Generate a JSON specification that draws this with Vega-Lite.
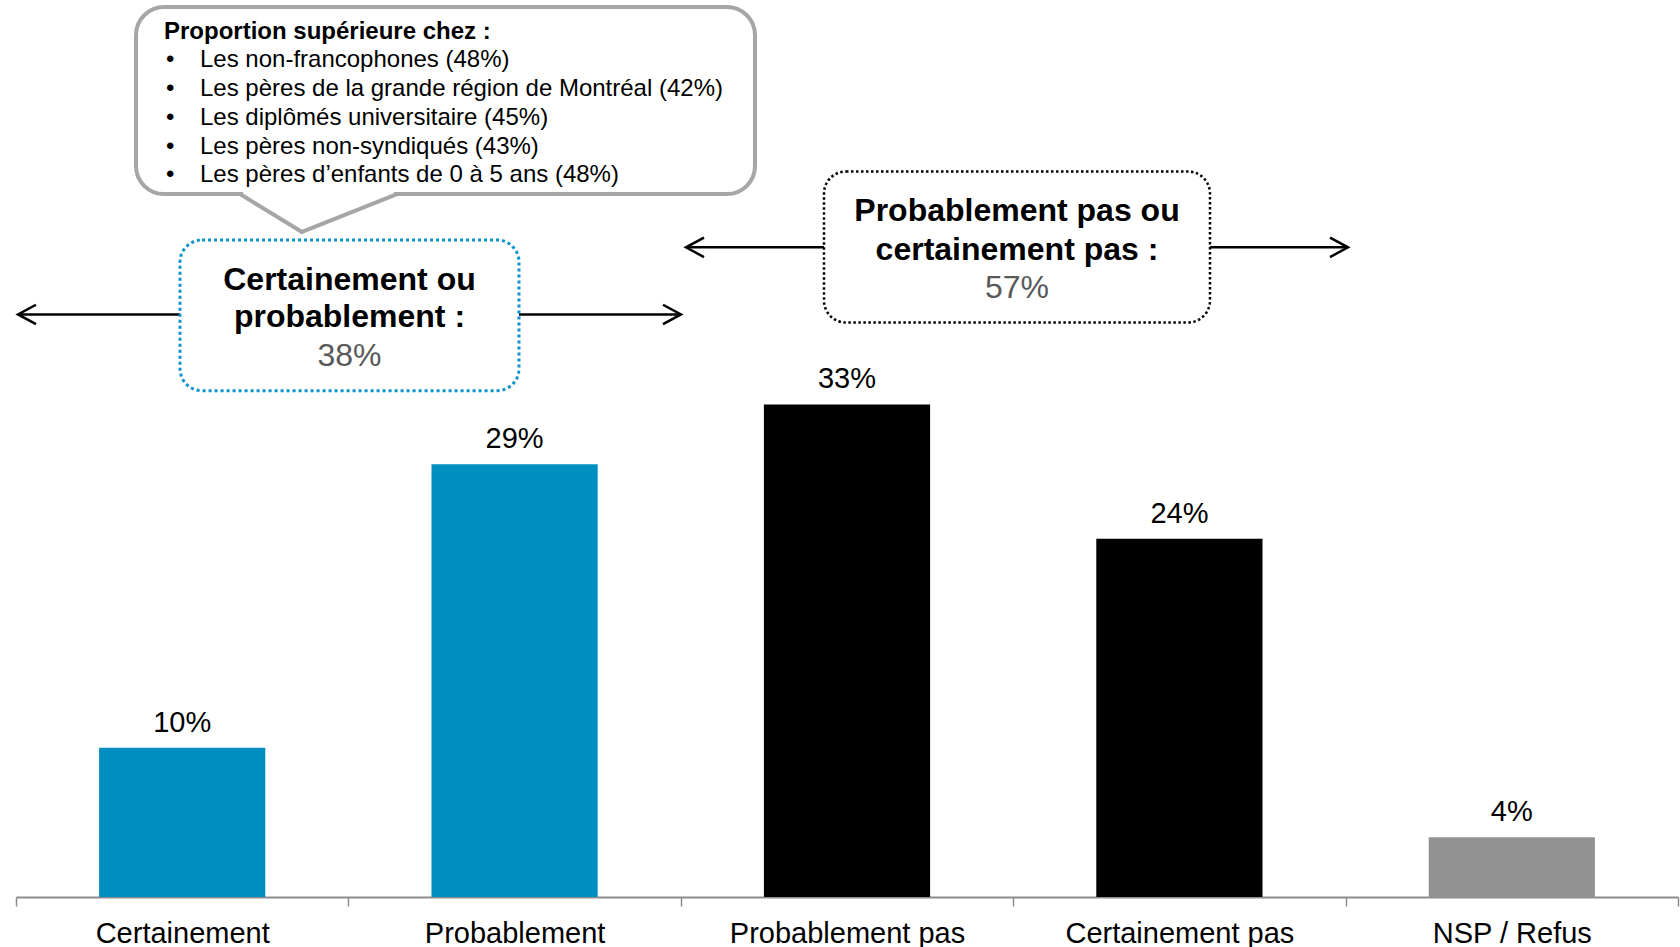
{
  "$schema": "https://vega.github.io/schema/vega-lite/v6.json",
  "width": 1662,
  "height": 897,
  "autosize": {"type": "none"},
  "padding": {"left": 16, "top": 0, "right": 2, "bottom": 50},
  "background": "white",
  "config": {"font": "Liberation Sans", "view": {"stroke": null}},
  "resolve": {"scale": {"x": "independent"}},
  "layer": [
    {
      "data": {"values": [
        {"categorie": "Certainement", "pct": 0.10, "groupe": "oui"},
        {"categorie": "Probablement", "pct": 0.29, "groupe": "oui"},
        {"categorie": "Probablement pas", "pct": 0.33, "groupe": "non"},
        {"categorie": "Certainement pas", "pct": 0.24, "groupe": "non"},
        {"categorie": "NSP / Refus", "pct": 0.04, "groupe": "nsp"}
      ]},
      "encoding": {
        "x": {"field": "categorie", "type": "nominal", "sort": null,
              "scale": {"paddingInner": 0, "paddingOuter": 0},
              "axis": {"title": null, "labelAngle": 0, "labelFontSize": 29, "labelColor": "#000000",
                       "domainColor": "#8C8C8C", "domainWidth": 2, "tickColor": "#8C8C8C", "tickWidth": 1.5,
                       "tickSize": 9, "tickBand": "extent", "labelPadding": 36, "labelBaseline": "alphabetic",
                       "grid": false, "labelLimit": 0, "labelOverlap": false, "labelFont": "Liberation Sans"}},
        "y": {"field": "pct", "type": "quantitative", "scale": {"domain": [0, 0.601], "nice": false}, "axis": null}
      },
      "layer": [
        {"mark": {"type": "bar", "width": {"band": 0.5}},
         "encoding": {"color": {"field": "groupe", "type": "nominal",
                                "scale": {"domain": ["oui", "non", "nsp"], "range": ["#008FC0", "#000000", "#929292"]},
                                "legend": null}}},
        {"mark": {"type": "text", "dy": -16, "baseline": "alphabetic", "fontSize": 29, "color": "#000000"},
         "encoding": {"text": {"field": "pct", "type": "quantitative", "format": ".0%"}}}
      ]
    },
    {
      "data": {"values": [{}]},
      "layer": [
        {"mark": {"type": "rule", "color": "#000000", "strokeWidth": 2.5},
         "encoding": {
           "x": {"datum": 0.006, "type": "quantitative", "scale": {"domain": [0, 5], "nice": false, "zero": false}, "axis": null},
           "x2": {"datum": 2.0006},
           "y": {"datum": 0.3903, "type": "quantitative", "scale": {"domain": [0, 0.601], "nice": false}, "axis": null}}},
        {"mark": {"type": "rule", "color": "#000000", "strokeWidth": 2.5},
         "encoding": {
           "x": {"datum": 2.0156, "type": "quantitative", "scale": {"domain": [0, 5], "nice": false, "zero": false}, "axis": null},
           "x2": {"datum": 4.0072},
           "y": {"datum": 0.4353, "type": "quantitative", "scale": {"domain": [0, 0.601], "nice": false}, "axis": null}}},
        {"mark": {"type": "point", "shape": "M1,-0.54L0,0L1,0.54", "size": 1296, "filled": false, "stroke": "#000000", "strokeWidth": 2.5, "opacity": 1},
         "encoding": {
           "x": {"datum": 0.006, "type": "quantitative", "scale": {"domain": [0, 5], "nice": false, "zero": false}, "axis": null},
           "y": {"datum": 0.3903, "type": "quantitative", "scale": {"domain": [0, 0.601], "nice": false}, "axis": null}}},
        {"mark": {"type": "point", "shape": "M-1,-0.54L0,0L-1,0.54", "size": 1296, "filled": false, "stroke": "#000000", "strokeWidth": 2.5, "opacity": 1},
         "encoding": {
           "x": {"datum": 2.0006, "type": "quantitative", "scale": {"domain": [0, 5], "nice": false, "zero": false}, "axis": null},
           "y": {"datum": 0.3903, "type": "quantitative", "scale": {"domain": [0, 0.601], "nice": false}, "axis": null}}},
        {"mark": {"type": "point", "shape": "M1,-0.54L0,0L1,0.54", "size": 1296, "filled": false, "stroke": "#000000", "strokeWidth": 2.5, "opacity": 1},
         "encoding": {
           "x": {"datum": 2.0156, "type": "quantitative", "scale": {"domain": [0, 5], "nice": false, "zero": false}, "axis": null},
           "y": {"datum": 0.4353, "type": "quantitative", "scale": {"domain": [0, 0.601], "nice": false}, "axis": null}}},
        {"mark": {"type": "point", "shape": "M-1,-0.54L0,0L-1,0.54", "size": 1296, "filled": false, "stroke": "#000000", "strokeWidth": 2.5, "opacity": 1},
         "encoding": {
           "x": {"datum": 4.0072, "type": "quantitative", "scale": {"domain": [0, 5], "nice": false, "zero": false}, "axis": null},
           "y": {"datum": 0.4353, "type": "quantitative", "scale": {"domain": [0, 0.601], "nice": false}, "axis": null}}},
        {"mark": {"type": "rect", "fill": "#FFFFFF", "stroke": "#0E93CB", "strokeWidth": 3, "strokeDash": [3, 3], "cornerRadius": 22},
         "encoding": {
           "x": {"datum": 0.4934, "type": "quantitative", "scale": {"domain": [0, 5], "nice": false, "zero": false}, "axis": null},
           "x2": {"datum": 1.5132},
           "y": {"datum": 0.4402, "type": "quantitative", "scale": {"domain": [0, 0.601], "nice": false}, "axis": null},
           "y2": {"datum": 0.3392}}},
        {"mark": {"type": "rect", "fill": "#FFFFFF", "stroke": "#000000", "strokeWidth": 2.5, "strokeDash": [2.5, 2.5], "cornerRadius": 22},
         "encoding": {
           "x": {"datum": 2.4308, "type": "quantitative", "scale": {"domain": [0, 5], "nice": false, "zero": false}, "axis": null},
           "x2": {"datum": 3.592},
           "y": {"datum": 0.4861, "type": "quantitative", "scale": {"domain": [0, 0.601], "nice": false}, "axis": null},
           "y2": {"datum": 0.3849}}},
        {"mark": {"type": "text", "text": ["Certainement ou", "probablement :"], "fontSize": 32, "fontWeight": "bold", "lineHeight": 37.4, "align": "center", "baseline": "alphabetic", "color": "#000000"},
         "encoding": {
           "x": {"datum": 1.0033, "type": "quantitative", "scale": {"domain": [0, 5], "nice": false, "zero": false}, "axis": null},
           "y": {"datum": 0.4070, "type": "quantitative", "scale": {"domain": [0, 0.601], "nice": false}, "axis": null}}},
        {"mark": {"type": "text", "text": "38%", "fontSize": 32, "align": "center", "baseline": "alphabetic", "color": "#595959"},
         "encoding": {
           "x": {"datum": 1.0033, "type": "quantitative", "scale": {"domain": [0, 5], "nice": false, "zero": false}, "axis": null},
           "y": {"datum": 0.3558, "type": "quantitative", "scale": {"domain": [0, 0.601], "nice": false}, "axis": null}}},
        {"mark": {"type": "text", "text": ["Probablement pas ou", "certainement pas :"], "fontSize": 32, "fontWeight": "bold", "lineHeight": 38.6, "align": "center", "baseline": "alphabetic", "color": "#000000"},
         "encoding": {
           "x": {"datum": 3.0114, "type": "quantitative", "scale": {"domain": [0, 5], "nice": false, "zero": false}, "axis": null},
           "y": {"datum": 0.4529, "type": "quantitative", "scale": {"domain": [0, 0.601], "nice": false}, "axis": null}}},
        {"mark": {"type": "text", "text": "57%", "fontSize": 32, "align": "center", "baseline": "alphabetic", "color": "#595959"},
         "encoding": {
           "x": {"datum": 3.0114, "type": "quantitative", "scale": {"domain": [0, 5], "nice": false, "zero": false}, "axis": null},
           "y": {"datum": 0.4013, "type": "quantitative", "scale": {"domain": [0, 0.601], "nice": false}, "axis": null}}},
        {"mark": {"type": "rect", "fill": "#FFFFFF", "stroke": "#A6A6A6", "strokeWidth": 4, "cornerRadius": 28},
         "encoding": {
           "x": {"datum": 0.361, "type": "quantitative", "scale": {"domain": [0, 5], "nice": false, "zero": false}, "axis": null},
           "x2": {"datum": 2.2232},
           "y": {"datum": 0.5963, "type": "quantitative", "scale": {"domain": [0, 0.601], "nice": false}, "axis": null},
           "y2": {"datum": 0.4710}}},
        {"mark": {"type": "rule", "color": "#FFFFFF", "strokeWidth": 7},
         "encoding": {
           "x": {"datum": 0.6829, "type": "quantitative", "scale": {"domain": [0, 5], "nice": false, "zero": false}, "axis": null},
           "x2": {"datum": 1.1372},
           "y": {"datum": 0.4710, "type": "quantitative", "scale": {"domain": [0, 0.601], "nice": false}, "axis": null}}},
        {"mark": {"type": "rule", "color": "#A6A6A6", "strokeWidth": 4, "strokeCap": "round"},
         "encoding": {
           "x": {"datum": 0.6739, "type": "quantitative", "scale": {"domain": [0, 5], "nice": false, "zero": false}, "axis": null},
           "x2": {"datum": 0.8604},
           "y": {"datum": 0.4710, "type": "quantitative", "scale": {"domain": [0, 0.601], "nice": false}, "axis": null},
           "y2": {"datum": 0.4456}}},
        {"mark": {"type": "rule", "color": "#A6A6A6", "strokeWidth": 4, "strokeCap": "round"},
         "encoding": {
           "x": {"datum": 0.8604, "type": "quantitative", "scale": {"domain": [0, 5], "nice": false, "zero": false}, "axis": null},
           "x2": {"datum": 1.1462},
           "y": {"datum": 0.4456, "type": "quantitative", "scale": {"domain": [0, 0.601], "nice": false}, "axis": null},
           "y2": {"datum": 0.4710}}},
        {"mark": {"type": "text", "text": "Proportion supérieure chez :", "fontSize": 24, "fontWeight": "bold", "align": "left", "baseline": "alphabetic", "color": "#000000"},
         "encoding": {
           "x": {"datum": 0.4452, "type": "quantitative", "scale": {"domain": [0, 5], "nice": false, "zero": false}, "axis": null},
           "y": {"datum": 0.5752, "type": "quantitative", "scale": {"domain": [0, 0.601], "nice": false}, "axis": null}}},
        {"mark": {"type": "text", "text": ["•", "•", "•", "•", "•"], "fontSize": 24, "lineHeight": 28.7, "align": "left", "baseline": "alphabetic", "color": "#000000"},
         "encoding": {
           "x": {"datum": 0.4513, "type": "quantitative", "scale": {"domain": [0, 5], "nice": false, "zero": false}, "axis": null},
           "y": {"datum": 0.5558, "type": "quantitative", "scale": {"domain": [0, 0.601], "nice": false}, "axis": null}}},
        {"mark": {"type": "text", "text": ["Les non-francophones (48%)", "Les pères de la grande région de Montréal (42%)", "Les diplômés universitaire (45%)", "Les pères non-syndiqués (43%)", "Les pères d’enfants de 0 à 5 ans (48%)"], "fontSize": 24, "lineHeight": 28.7, "align": "left", "baseline": "alphabetic", "color": "#000000"},
         "encoding": {
           "x": {"datum": 0.5535, "type": "quantitative", "scale": {"domain": [0, 5], "nice": false, "zero": false}, "axis": null},
           "y": {"datum": 0.5558, "type": "quantitative", "scale": {"domain": [0, 0.601], "nice": false}, "axis": null}}}
      ]
    }
  ]
}
